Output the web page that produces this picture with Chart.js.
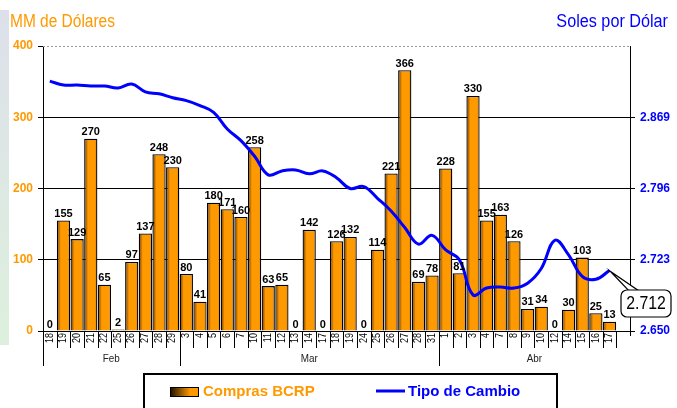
<!DOCTYPE html>
<html>
<head>
<meta charset="utf-8">
<script src="https://cdn.jsdelivr.net/npm/chart.js@4"></script>
<style>
  body { margin: 0; background: #fff; }
  #wrap { width: 677px; height: 408px; position: relative; }
</style>
</head>
<body>
<div id="wrap"><canvas id="bcrpChart" width="677" height="408"></canvas></div>
<script>
// days on the x axis, grouped by month
var months = ['Feb', 'Mar', 'Abr'];
var monthDays = [
    ['18', '19', '20', '21', '22', '25', '26', '27', '28', '29'],
    ['3', '4', '5', '6', '7', '10', '11', '12', '13', '14', '17', '18', '19', '24', '25', '26', '27', '28', '31'],
    ['1', '2', '3', '4', '7', '8', '9', '10', '12', '14', '15', '16', '17']
];

// Compras BCRP, MM de dolares
var compras = [
    0, 155, 129, 270, 65, 2, 97, 137, 248, 230,
    80, 41, 180, 171, 160, 258, 63, 65, 0, 142, 0, 126, 132, 0, 114, 221, 366, 69, 78,
    228, 81, 330, 155, 163, 126, 31, 34, 0, 30, 103, 25, 13
];

// Tipo de cambio, soles por dolar
var tipoCambio = [
    2.906, 2.902, 2.902, 2.901, 2.901, 2.899, 2.903, 2.895, 2.893, 2.889,
    2.886, 2.881, 2.874, 2.857, 2.845, 2.829, 2.810, 2.814, 2.815, 2.811, 2.814, 2.807, 2.796, 2.798, 2.786, 2.773, 2.756, 2.739, 2.748,
    2.733, 2.723, 2.687, 2.694, 2.695, 2.694, 2.699, 2.714, 2.743, 2.728, 2.706, 2.703, 2.712
];

var leftTicks = [0, 100, 200, 300, 400];
var rightTicks = [2.650, 2.723, 2.796, 2.869];
var rightMax = 2.942;

var ORANGE = '#FF9900';
var BLUE = '#0000FF';
var FONT = 'Arial, sans-serif';

// flat list of day labels, plus one empty slot at the end like the original
var dayLabels = [];
monthDays.forEach(function (d) { dayLabels = dayLabels.concat(d); });
var labels = dayLabels.concat(['']);

function barFill(ctx) {
    var chart = ctx.chart;
    var xs = chart.scales.x;
    if (!xs || ctx.type !== 'data') return ORANGE;
    var cx = xs.getPixelForValue(ctx.dataIndex);
    var half = xs.width / labels.length / 2;
    if (!isFinite(cx) || !isFinite(half) || half <= 0) return ORANGE;
    var g = chart.ctx.createLinearGradient(cx - half, 0, cx + half, 0);
    g.addColorStop(0, '#5c2c00');
    g.addColorStop(0.3, '#ff9900');
    g.addColorStop(0.8, '#ff9900');
    g.addColorStop(1, '#c87400');
    return g;
}

// text squeezed horizontally, the original uses a narrow face
function narrowText(c, text, x, y, sx) {
    c.save();
    c.translate(x, y);
    c.scale(sx, 1);
    c.fillText(text, 0, 0);
    c.restore();
}

// day boxes, month groups, bar values, callout, legend and titles
var decorations = {
    id: 'decorations',
    beforeDraw: function (chart) {
        var c = chart.ctx;
        // faint strip at the left edge
        var g = c.createLinearGradient(0, 10, 0, 345);
        g.addColorStop(0, '#dde0ea');
        g.addColorStop(1, '#ddf0dd');
        c.save();
        c.fillStyle = g;
        c.fillRect(0, 10, 9, 335);
        c.restore();
    },
    afterDraw: function (chart) {
        var c = chart.ctx;
        var xs = chart.scales.x;
        var area = chart.chartArea;
        var step = xs.width / labels.length;
        var bottom = area.bottom;

        c.save();
        // top border, grey dotted
        c.strokeStyle = '#999';
        c.lineWidth = 1;
        c.setLineDash([2, 2]);
        c.beginPath();
        c.moveTo(area.left, area.top + 0.5);
        c.lineTo(area.right, area.top + 0.5);
        c.stroke();
        c.setLineDash([]);
        c.strokeStyle = '#000';
        c.beginPath();
        c.moveTo(area.left - 5, area.top + 0.5);
        c.lineTo(area.left, area.top + 0.5);
        c.stroke();

        // day label boxes
        c.strokeStyle = '#000';
        c.lineWidth = 1;
        c.fillStyle = '#000';
        c.font = '10px ' + FONT;
        c.textAlign = 'right';
        c.textBaseline = 'middle';
        for (var i = 0; i < dayLabels.length; i++) {
            var cx = xs.getPixelForValue(i);
            var rx = Math.round(cx + step / 2) + 0.5;
            c.beginPath();
            c.moveTo(rx, bottom);
            c.lineTo(rx, bottom + 17);
            c.stroke();
            c.save();
            c.translate(cx, bottom + 2);
            c.rotate(-Math.PI / 2);
            c.scale(0.9, 1);
            c.fillText(dayLabels[i], 0, 0);
            c.restore();
        }

        // month groups
        var start = 0;
        c.font = '11px ' + FONT;
        c.textAlign = 'center';
        c.fillStyle = '#222';
        for (var m = 0; m < months.length; m++) {
            var n = monthDays[m].length;
            var x0 = xs.getPixelForValue(start) - step / 2;
            var last = (m === months.length - 1) ? labels.length - 1 : start + n - 1;
            var x1 = xs.getPixelForValue(last) + step / 2;
            c.beginPath();
            c.moveTo(Math.round(x0) + 0.5, bottom);
            c.lineTo(Math.round(x0) + 0.5, bottom + 35);
            c.stroke();
            narrowText(c, months[m], (x0 + x1) / 2, bottom + 28, 0.9);
            start += n;
        }
        // right axis stub below the plot
        c.beginPath();
        c.moveTo(area.right + 0.5, bottom);
        c.lineTo(area.right + 0.5, bottom + 5);
        c.stroke();

        // bar values
        var bars = chart.getDatasetMeta(0).data;
        c.font = 'bold 11px ' + FONT;
        c.fillStyle = '#000';
        c.textBaseline = 'bottom';
        c.textAlign = 'center';
        for (var b = 0; b < compras.length; b++) {
            c.fillText(String(compras[b]), bars[b].x, bars[b].y - 1);
        }

        // callout with the last exchange rate
        var pts = chart.getDatasetMeta(1).data;
        var lastIdx = tipoCambio.length - 1;
        var p = pts[lastIdx];
        var bx = 621, by = 290, bw = 50, bh = 27;
        c.lineWidth = 1.2;
        c.strokeStyle = '#000';
        c.fillStyle = '#fff';
        c.beginPath();
        c.moveTo(p.x + 1, p.y + 1);
        c.lineTo(bx + 8, by + 1);
        c.lineTo(bx + 18, by + 1);
        c.closePath();
        c.fill();
        c.stroke();
        c.beginPath();
        c.roundRect(bx, by, bw, bh, 6);
        c.fill();
        c.stroke();
        c.fillStyle = '#000';
        c.font = '18px ' + FONT;
        c.textBaseline = 'middle';
        narrowText(c, tipoCambio[lastIdx].toFixed(3), bx + bw / 2, by + bh / 2 + 1, 0.88);

        // axis titles
        c.textBaseline = 'alphabetic';
        c.font = '18px ' + FONT;
        c.textAlign = 'left';
        c.fillStyle = ORANGE;
        narrowText(c, 'MM de Dólares', 10, 27, 0.86);
        c.textAlign = 'right';
        c.fillStyle = BLUE;
        narrowText(c, 'Soles por Dólar', 668, 27, 0.9);

        // legend box
        c.lineWidth = 2;
        c.strokeStyle = '#000';
        c.strokeRect(144, 374, 413, 40);
        var lg = c.createLinearGradient(170, 0, 199, 0);
        lg.addColorStop(0, '#1a0c00');
        lg.addColorStop(0.7, ORANGE);
        lg.addColorStop(1, ORANGE);
        c.fillStyle = lg;
        c.fillRect(170, 387, 29, 10);
        c.lineWidth = 1;
        c.strokeRect(170.5, 387.5, 28, 9);
        c.fillStyle = ORANGE;
        c.font = 'bold 15px ' + FONT;
        c.textAlign = 'left';
        c.textBaseline = 'middle';
        c.fillText(chart.data.datasets[0].label, 203, 392);
        c.strokeStyle = BLUE;
        c.lineWidth = 3;
        c.beginPath();
        c.moveTo(376, 391);
        c.lineTo(405, 391);
        c.stroke();
        c.fillStyle = BLUE;
        c.fillText(chart.data.datasets[1].label, 408, 392);
        c.restore();
    }
};

new Chart(document.getElementById('bcrpChart').getContext('2d'), {
    data: {
        labels: labels,
        datasets: [{
            type: 'bar',
            label: 'Compras BCRP',
            data: compras,
            yAxisID: 'y',
            backgroundColor: barFill,
            borderColor: '#000',
            borderWidth: 1.3,
            borderSkipped: 'bottom',
            barPercentage: 0.97,
            categoryPercentage: 1,
            order: 2
        }, {
            type: 'line',
            label: 'Tipo de Cambio',
            data: tipoCambio,
            yAxisID: 'y1',
            borderColor: BLUE,
            borderWidth: 3,
            pointRadius: 0,
            tension: 0.4,
            fill: false,
            order: 1
        }]
    },
    options: {
        responsive: false,
        animation: false,
        layout: { padding: { top: 46, left: 0, right: 0, bottom: 0 } },
        plugins: {
            legend: { display: false },
            tooltip: { enabled: false }
        },
        scales: {
            x: {
                type: 'category',
                ticks: { display: false },
                grid: { display: false },
                border: { display: true, color: '#000', width: 1 },
                afterFit: function (scale) { scale.height = 77; }
            },
            y: {
                position: 'left',
                min: 0,
                max: 400,
                afterBuildTicks: function (scale) {
                    scale.ticks = leftTicks.map(function (v) { return { value: v }; });
                },
                ticks: {
                    color: ORANGE,
                    font: { family: 'Arial', size: 12, weight: 'bold' },
                    padding: 5
                },
                grid: {
                    color: function (ctx) { return ctx.tick && ctx.tick.value === 400 ? 'rgba(0,0,0,0)' : '#000'; },
                    tickLength: 5,
                    lineWidth: 1
                },
                border: { display: true, color: '#000', width: 1 },
                afterFit: function (scale) { scale.width = 43; }
            },
            y1: {
                position: 'right',
                min: rightTicks[0],
                max: rightMax,
                afterBuildTicks: function (scale) {
                    scale.ticks = rightTicks.map(function (v) { return { value: v }; });
                },
                ticks: {
                    color: BLUE,
                    font: { family: 'Arial', size: 12, weight: 'bold' },
                    padding: 5,
                    callback: function (v) { return Number(v).toFixed(3); }
                },
                grid: {
                    drawOnChartArea: false,
                    color: '#000',
                    tickLength: 5
                },
                border: { display: true, color: '#000', width: 1 },
                afterFit: function (scale) { scale.width = 47; }
            }
        }
    },
    plugins: [decorations]
});
</script>
</body>
</html>
